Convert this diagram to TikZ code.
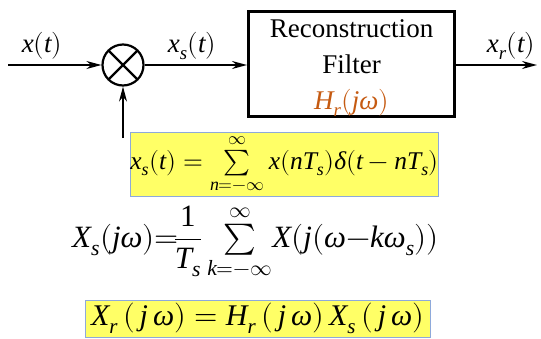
\documentclass[tikz,border=0pt]{standalone}
\usepackage{amsmath}
\usepackage{unicode-math}
\setmainfont{Liberation Serif}
\setmathfont{Latin Modern Math}
\setmathfont[range=it/{latin,Latin,greek}]{Liberation Serif Italic}
\setmathfont[range=up/{num}]{Liberation Serif}
\usepackage{xcolor}
\usetikzlibrary{arrows.meta,positioning,calc}
\definecolor{hrorange}{HTML}{C55A11}
\definecolor{eqyellow}{HTML}{FFFF66}
\definecolor{eqborder}{HTML}{8EA9DB}
\newcommand{\Xs}{\ensuremath{X_{s}}}
\newcommand{\Hr}{\ensuremath{H_{r}}}
\newcommand{\Ts}{\ensuremath{T_{s}}}

\begin{document}
\begin{tikzpicture}[x=1pt, y=-1pt, >={Stealth[length=15pt,width=8pt]},
  sig/.style={line width=1.6pt},
  mult/.style={draw, circle, line width=2.2pt, minimum size=41pt, inner sep=0pt,
    path picture={\draw[line width=2.2pt]
      (path picture bounding box.north west) -- (path picture bounding box.south east)
      (path picture bounding box.north east) -- (path picture bounding box.south west);}},
  filterbox/.style={draw, line width=3pt, minimum width=206pt, minimum height=105pt},
  filtertext/.style={align=center, font=\fontsize{27}{36}\selectfont},
  eqbox/.style={draw=eqborder, fill=eqyellow, line width=0.8pt, inner sep=0pt},
  lbl/.style={font=\fontsize{27}{30}\selectfont}]
  \useasboundingbox (0,0) rectangle (541,338);
  % block diagram
  \coordinate (in) at (8,65);
  \node[mult] (m) at (123,65) {};
  \node[filterbox] (filt) at (351.5,64) {};
  \node[filtertext] (filttxt) at (351.5,68)
    {Reconstruction\\Filter\\\textcolor{hrorange}{$H_r(j\omega)$}};
  \coordinate (out) at (537,65);
  \coordinate (carrier) at (123,138);
  \draw[sig,->] (in) -- (m);
  \draw[sig,->] (m) -- (filt.west |- m);
  \draw[sig,->] (filt.east |- out) -- (out);
  \draw[sig,->] (carrier) -- (m);
  \node[lbl] (xt) at (42,46) {$x(t)$};
  \node[lbl] (xst) at (192,46) {$x_s(t)$};
  \node[lbl] (xrt) at (511,46) {$x_r(t)$};
  % equations
  \node[eqbox, minimum width=305pt, minimum height=64pt] (eq1) at (284.5,164)
    {\fontsize{25.5}{30}\selectfont$x_s(t)=\sum\limits_{n=-\infty}^{\infty} x(n\Ts)\delta(t-n\Ts)$};
  \node (eq2) at (255.5,242)
    {\fontsize{31}{35}\selectfont$\Xs(j\omega){=}\!\dfrac{1}{\Ts}\sum\limits_{k=-\infty}^{\infty}\!X(j(\omega{-}k\omega_s))$};
  \node[eqbox, minimum width=345pt, minimum height=37pt] (eq3) at (257.5,318.5)
    {\fontsize{30}{34}\selectfont$X_r\,(\,j\,\omega)=\Hr\,(\,j\,\omega)\,\Xs\,(\,j\,\omega)$};
\end{tikzpicture}
\end{document}
